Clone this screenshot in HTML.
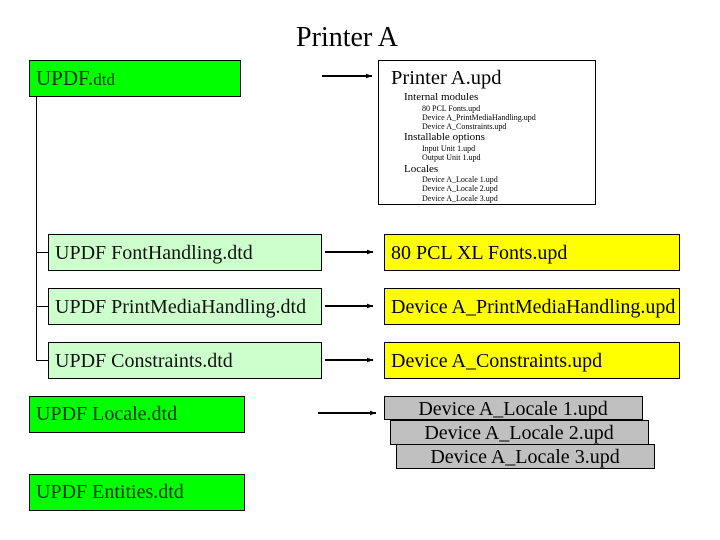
<!DOCTYPE html>
<html><head><meta charset="utf-8"><style>
html,body{margin:0;padding:0;background:#fff;}
svg{display:block;}
text{font-family:"Liberation Serif",serif;}
</style></head><body>
<svg width="720" height="540" viewBox="0 0 720 540" xmlns="http://www.w3.org/2000/svg">
<defs><marker id="a" viewBox="0 0 10 10" refX="10" refY="5" markerWidth="6" markerHeight="6" orient="auto" markerUnits="userSpaceOnUse"><path d="M0,1 L10,5 L0,9 z" fill="#000"/></marker></defs>
<text x="347" y="46" font-size="28" text-anchor="middle">Printer A</text>

<rect x="29.5" y="60.5" width="211" height="36" fill="#00ff00" stroke="#000"/>
<text x="36" y="85" font-size="21" fill="#003300">UPDF.<tspan font-size="17">dtd</tspan></text>

<path d="M36.5 96 V360.5 M36 252.5 H48 M36 306.5 H48 M36 360.5 H48" stroke="#000" fill="none"/>

<g fill="#ccffcc" stroke="#000">
<rect x="48.5" y="234.5" width="273" height="36"/>
<rect x="48.5" y="288.5" width="273" height="36"/>
<rect x="48.5" y="342.5" width="273" height="36"/>
</g>
<g font-size="20" fill="#111">
<text x="55" y="259">UPDF FontHandling.dtd</text>
<text x="55" y="313">UPDF PrintMediaHandling.dtd</text>
<text x="55" y="367">UPDF Constraints.dtd</text>
</g>

<g stroke="#000" stroke-width="2" marker-end="url(#a)">
<line x1="322" y1="76" x2="372" y2="76"/>
<line x1="325" y1="252" x2="373" y2="252"/>
<line x1="325" y1="306" x2="373" y2="306"/>
<line x1="325" y1="360" x2="373" y2="360"/>
<line x1="318" y1="413" x2="376" y2="413"/>
</g>

<rect x="378.5" y="60.5" width="217" height="144" fill="#fff" stroke="#000"/>
<text x="391" y="84" font-size="20.5">Printer A.upd</text>
<g font-size="11">
<text x="404" y="100">Internal modules</text>
<text x="404" y="140">Installable options</text>
<text x="404" y="172">Locales</text>
</g>
<g font-size="8">
<text x="422" y="111">80 PCL Fonts.upd</text>
<text x="422" y="120">Device A_PrintMediaHandling.upd</text>
<text x="422" y="129">Device A_Constraints.upd</text>
<text x="422" y="151">Input Unit 1.upd</text>
<text x="422" y="160">Output Unit 1.upd</text>
<text x="422" y="182">Device A_Locale 1.upd</text>
<text x="422" y="191">Device A_Locale 2.upd</text>
<text x="422" y="201">Device A_Locale 3.upd</text>
</g>

<g fill="#ffff00" stroke="#000">
<rect x="384.5" y="234.5" width="295" height="36"/>
<rect x="384.5" y="288.5" width="295" height="36"/>
<rect x="384.5" y="342.5" width="295" height="36"/>
</g>
<g font-size="20">
<text x="391" y="259">80 PCL XL Fonts.upd</text>
<text x="391" y="313">Device A_PrintMediaHandling.upd</text>
<text x="391" y="367">Device A_Constraints.upd</text>
</g>

<rect x="29.5" y="396.5" width="215" height="36" fill="#00ff00" stroke="#000"/>
<text x="36" y="420" font-size="20" fill="#003300">UPDF Locale.dtd</text>
<rect x="29.5" y="474.5" width="215" height="36" fill="#00ff00" stroke="#000"/>
<text x="36" y="498" font-size="20" fill="#003300">UPDF Entities.dtd</text>

<g fill="#c0c0c0" stroke="#000">
<rect x="384.5" y="396.5" width="258" height="23"/>
<rect x="390.5" y="420.5" width="258" height="24"/>
<rect x="396.5" y="444.5" width="258" height="24"/>
</g>
<g font-size="20" text-anchor="middle">
<text x="513" y="415">Device A_Locale 1.upd</text>
<text x="519" y="439">Device A_Locale 2.upd</text>
<text x="525" y="463">Device A_Locale 3.upd</text>
</g>
</svg>
</body></html>
